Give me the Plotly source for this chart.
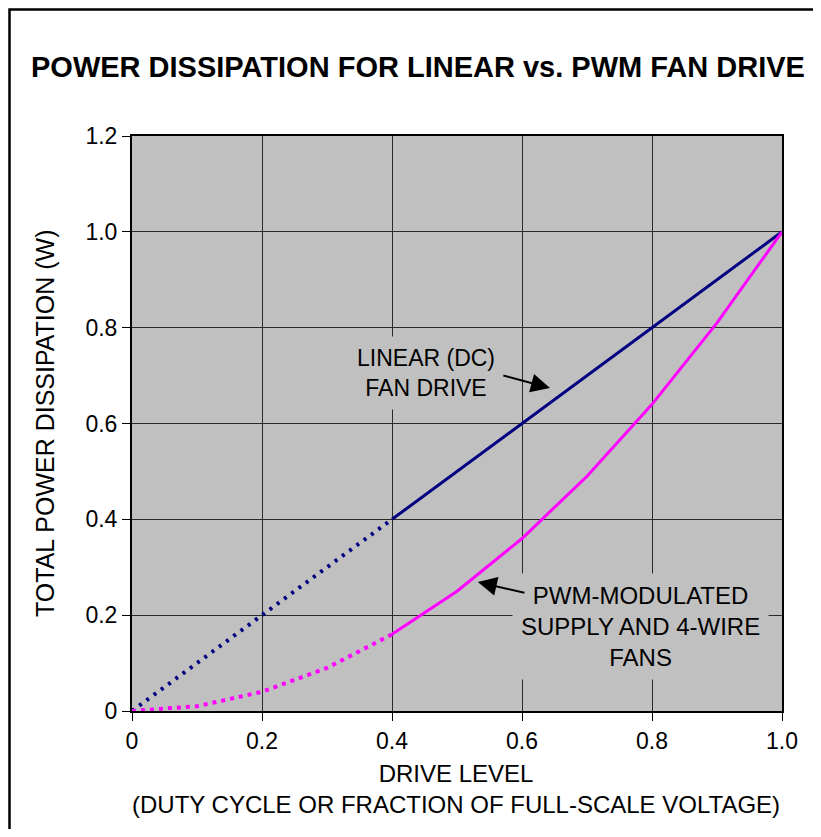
import plotly.graph_objects as go

# ---- data ----
drive_level = [0.0, 0.1, 0.2, 0.3, 0.4, 0.5, 0.6, 0.7, 0.8, 0.9, 1.0]
linear_power = [0.0, 0.1, 0.2, 0.3, 0.4, 0.5, 0.6, 0.7, 0.8, 0.9, 1.0]
pwm_power = [0.0, 0.01, 0.04, 0.09, 0.16, 0.25, 0.36, 0.49, 0.64, 0.81, 1.0]
split_index = 4  # dotted below 0.4, solid above

x_tick_vals = [0, 0.2, 0.4, 0.6, 0.8, 1.0]
x_tick_text = ["0", "0.2", "0.4", "0.6", "0.8", "1.0"]
y_tick_vals = [0, 0.2, 0.4, 0.6, 0.8, 1.0, 1.2]
y_tick_text = ["0", "0.2", "0.4", "0.6", "0.8", "1.0", "1.2"]

NAVY = "#000080"
MAGENTA = "#FF00FF"
FONT = "Liberation Sans, Arial, Helvetica, sans-serif"

fig = go.Figure()

# linear drive
fig.add_trace(go.Scatter(x=drive_level[:split_index + 1], y=linear_power[:split_index + 1],
                         mode="lines", line=dict(color=NAVY, width=4, dash="3px,6px"),
                         cliponaxis=False, showlegend=False, hoverinfo="skip"))
fig.add_trace(go.Scatter(x=drive_level[split_index:], y=linear_power[split_index:],
                         mode="lines", line=dict(color=NAVY, width=3),
                         cliponaxis=False, showlegend=False, hoverinfo="skip"))
# pwm drive
fig.add_trace(go.Scatter(x=drive_level[:split_index + 1], y=pwm_power[:split_index + 1],
                         mode="lines", line=dict(color=MAGENTA, width=4, dash="4px,5px"),
                         cliponaxis=False, showlegend=False, hoverinfo="skip"))
fig.add_trace(go.Scatter(x=drive_level[split_index:], y=pwm_power[split_index:],
                         mode="lines", line=dict(color=MAGENTA, width=3),
                         cliponaxis=False, showlegend=False, hoverinfo="skip"))

OFF = 8  # page body margin
W, H = 821 - OFF, 837 - 2 * OFF
L, T = 132 - OFF, 136 - OFF
R = OFF + W - 782
B = OFF + H - 711
pw, ph = W - L - R, H - T - B

def px2paper(px, py):
    # px, py in screenshot coordinates
    return (px - OFF - L) / pw, (H - B - (py - OFF)) / ph

annotations = []
# title
tx, ty = px2paper(418, 67)
annotations.append(dict(text="<b>POWER DISSIPATION FOR LINEAR vs. PWM FAN DRIVE</b>",
                        x=tx, y=ty, xref="paper", yref="paper", showarrow=False,
                        xanchor="center", yanchor="middle",
                        font=dict(family=FONT, size=29, color="black")))
# x axis title
ax1x, ax1y = px2paper(456, 789)
annotations.append(dict(text="DRIVE LEVEL<br>(DUTY CYCLE OR FRACTION OF FULL-SCALE VOLTAGE)",
                        x=ax1x, y=ax1y, xref="paper", yref="paper", showarrow=False,
                        xanchor="center", yanchor="middle",
                        font=dict(family=FONT, size=24, color="black")))
# y axis title
ayx, ayy = px2paper(45, 423)
annotations.append(dict(text="TOTAL POWER DISSIPATION (W)", textangle=-90,
                        x=ayx, y=ayy, xref="paper", yref="paper", showarrow=False,
                        xanchor="center", yanchor="middle",
                        font=dict(family=FONT, size=25, color="black")))
# curve labels
annotations.append(dict(text="LINEAR (DC)<br>FAN DRIVE", x=0.452, y=0.705,
                        xref="x", yref="y", showarrow=False, bgcolor="#C0C0C0",
                        borderpad=8, font=dict(family=FONT, size=23, color="black")))
annotations.append(dict(text="PWM-MODULATED<br>SUPPLY AND 4-WIRE<br>FANS", x=0.783, y=0.177,
                        xref="x", yref="y", showarrow=False, bgcolor="#C0C0C0",
                        borderpad=8, font=dict(family=FONT, size=24, color="black")))
# arrows
annotations.append(dict(text="", x=0.643, y=0.674, ax=0.569, ay=0.701,
                        xref="x", yref="y", axref="x", ayref="y", showarrow=True,
                        arrowhead=2, arrowsize=1.9, arrowwidth=2, arrowcolor="black"))
annotations.append(dict(text="", x=0.532, y=0.269, ax=0.606, ay=0.246,
                        xref="x", yref="y", axref="x", ayref="y", showarrow=True,
                        arrowhead=2, arrowsize=1.9, arrowwidth=2, arrowcolor="black"))

# outer frame (right and bottom edges fall outside the page)
fx0, fy0 = px2paper(9.5, 9.5)
fx1, fy1 = px2paper(860, 880)
shapes = [dict(type="rect", xref="paper", yref="paper", x0=fx0, y0=fy1, x1=fx1, y1=fy0,
               line=dict(color="black", width=2.5), fillcolor="rgba(0,0,0,0)", layer="above")]

axis_common = dict(showline=True, mirror=True, linecolor="black", linewidth=2,
                   showgrid=True, gridcolor="#2a2a2a", gridwidth=1, zeroline=False,
                   ticks="outside", ticklen=8, tickwidth=1, tickcolor="black",
                   tickfont=dict(family=FONT, size=23, color="black"))

fig.update_layout(
    width=W, height=H,
    margin=dict(l=L, r=R, t=T, b=B, pad=0),
    paper_bgcolor="white", plot_bgcolor="#C0C0C0",
    xaxis=dict(range=[0, 1.0], tickvals=x_tick_vals, ticktext=x_tick_text, **axis_common),
    yaxis=dict(range=[0, 1.2], tickvals=y_tick_vals, ticktext=y_tick_text, **axis_common),
    annotations=annotations, shapes=shapes,
)

fig.write_html("out.html")
